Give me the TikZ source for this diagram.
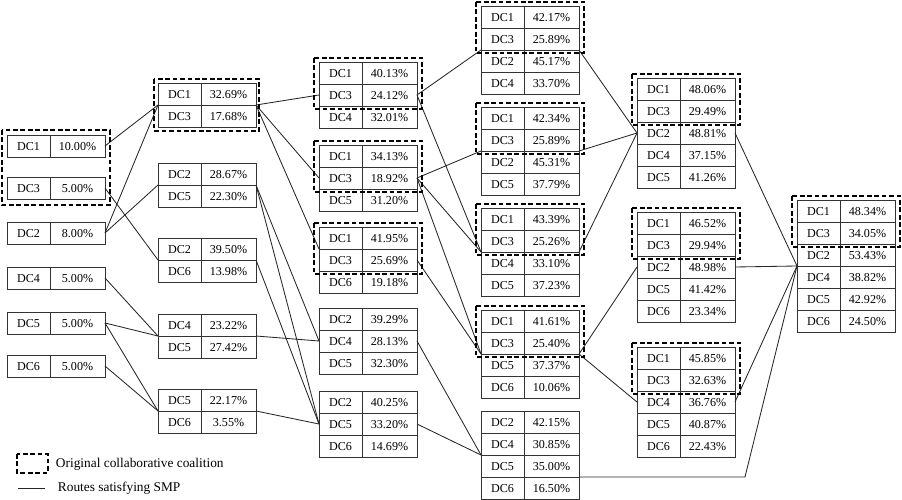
\documentclass[tikz,border=0pt]{standalone}
\usepackage{fontspec}
\setmainfont{Liberation Serif}
\usetikzlibrary{positioning,calc}

\tikzset{
  dclab/.style={draw=black!80, line width=0.6pt, outer sep=0pt, inner sep=0pt,
    minimum width=10.75mm, minimum height=5.5mm, anchor=north west,
    font=\fontsize{8.6}{10}\selectfont, text height=1.55ex, text depth=0.2ex},
  dcval/.style={dclab, minimum width=13.75mm},
  coalition/.style={draw=black, line width=1.7pt, dash pattern=on 3.4pt off 1.9pt},
  route/.style={draw=black!85, line width=0.6pt},
  legend/.style={font=\fontsize{9.5}{11}\selectfont, anchor=west}
}

% one box of stacked DC rows: name, x, y of top, list of label/value
\newcommand{\dcbox}[4]{%
  \foreach \lab/\val [count=\rw] in {#4} {
    \node[dclab] (#1\rw l) at (#2,{#3+(\rw-1)*22}) {\lab};
    \node[dcval, right=0pt of #1\rw l] (#1\rw v) {\val};
  }%
}

\begin{document}
\begin{tikzpicture}[x=0.25mm, y=-0.25mm]
        \useasboundingbox (0,0) rectangle (902,500);

        % Single DCs
        \dcbox{one}{7}{135}{DC1/10.00\%}
        \dcbox{three}{7}{177}{DC3/5.00\%}
        \dcbox{two}{7}{222}{DC2/8.00\%}
        \dcbox{four}{7}{267}{DC4/5.00\%}
        \dcbox{five}{7}{312}{DC5/5.00\%}
        \dcbox{six}{7}{355}{DC6/5.00\%}

        % Pairs
        \dcbox{A}{158}{83}{DC1/32.69\%, DC3/17.68\%}
        \dcbox{B}{158}{163}{DC2/28.67\%, DC5/22.30\%}
        \dcbox{C}{158}{238}{DC2/39.50\%, DC6/13.98\%}
        \dcbox{D}{158}{314}{DC4/23.22\%, DC5/27.42\%}
        \dcbox{E}{158}{389}{DC5/22.17\%, DC6/3.55\%}

        % Triples
        \dcbox{F}{319}{62}{DC1/40.13\%, DC3/24.12\%, DC4/32.01\%}
        \dcbox{G}{319}{145}{DC1/34.13\%, DC3/18.92\%, DC5/31.20\%}
        \dcbox{H}{319}{227}{DC1/41.95\%, DC3/25.69\%, DC6/19.18\%}
        \dcbox{I}{319}{308}{DC2/39.29\%, DC4/28.13\%, DC5/32.30\%}
        \dcbox{J}{319}{391}{DC2/40.25\%, DC5/33.20\%, DC6/14.69\%}

        % Quadruples
        \dcbox{K}{481}{6}{DC1/42.17\%, DC3/25.89\%, DC2/45.17\%, DC4/33.70\%}
        \dcbox{L}{481}{107}{DC1/42.34\%, DC3/25.89\%, DC2/45.31\%, DC5/37.79\%}
        \dcbox{M}{481}{208}{DC1/43.39\%, DC3/25.26\%, DC4/33.10\%, DC5/37.23\%}
        \dcbox{N}{481}{310}{DC1/41.61\%, DC3/25.40\%, DC5/37.37\%, DC6/10.06\%}
        \dcbox{O}{481}{411}{DC2/42.15\%, DC4/30.85\%, DC5/35.00\%, DC6/16.50\%}

        % Quintuples
        \dcbox{P}{637}{78}{DC1/48.06\%, DC3/29.49\%, DC2/48.81\%, DC4/37.15\%, DC5/41.26\%}
        \dcbox{Q}{637}{212}{DC1/46.52\%, DC3/29.94\%, DC2/48.98\%, DC5/41.42\%, DC6/23.34\%}
        \dcbox{R}{637}{347}{DC1/45.85\%, DC3/32.63\%, DC4/36.76\%, DC5/40.87\%, DC6/22.43\%}

        % Grand coalition
        \dcbox{S}{797}{200}{DC1/48.34\%, DC3/34.05\%, DC2/53.43\%, DC4/38.82\%, DC5/42.92\%, DC6/24.50\%}

        % Routes
        \draw[route] (one1v.east) -- (A1l.south west);
        \draw[route] (two1v.east) -- (A1l.south west);
        \draw[route] (two1v.east) -- (B1l.south west);
        \draw[route] (three1v.east) -- (C1l.south west);
        \draw[route] (four1v.east) -- (D1l.south west);
        \draw[route] (five1v.east) -- (D1l.south west);
        \draw[route] (five1v.east) -- (E1l.south west);
        \draw[route] (six1v.east) -- (E1l.south west);

        \draw[route] (A1v.south east) -- (F2l.west);
        \draw[route] (A1v.south east) -- (G2l.west);
        \draw[route] (A1v.south east) -- (H1l.south west);
        \draw[route] (B1v.south east) -- (I2l.west);
        \draw[route] (B1v.south east) -- (J2l.west);
        \draw[route] (C1v.south east) -- (J2l.west);
        \draw[route] (D1v.south east) -- (I2l.west);
        \draw[route] (E1v.south east) -- (J2l.west);

        \draw[route] (F2v.east) -- (K2l.south west);
        \draw[route] (F2v.east) -- (M2l.south west);
        \draw[route] (G2v.east) -- (L2l.south west);
        \draw[route] (G2v.east) -- (M2l.south west);
        \draw[route] (G2v.east) -- (N2l.south west);
        \draw[route] (H2v.east) -- (N2l.south west);
        \draw[route] (I2v.east) -- (O2l.south west);
        \draw[route] (J2v.east) -- (O2l.south west);

        \draw[route] (K2v.south east) -- (P3l.west);
        \draw[route] (L2v.south east) -- (P3l.west);
        \draw[route] (M2v.south east) -- (P3l.west);
        \draw[route] (N2v.south east) -- (Q3l.west);
        \draw[route] (N2v.south east) -- (R3l.west);

        \coordinate (bend) at (745,477);
        \draw[route] (O3v.south east) -- (bend) -- (S3l.south west);
        \draw[route] (P3v.east) -- (S3l.south west);
        \draw[route] (Q3v.east) -- (S3l.south west);
        \draw[route] (R3v.east) -- (S3l.south west);

        % Original coalitions
        \draw[coalition] ($(one1l.north west)+(-5,-5)$) rectangle ($(three1v.south east)+(5,6)$);
        \draw[coalition] ($(A1l.north west)+(-4,-4)$) rectangle ($(A2v.south east)+(3,4)$);
        \foreach \bx in {F,G,H,K,L,M,N,P,Q,R,S}
            \draw[coalition] ($(\bx1l.north west)+(-5,-4)$) rectangle ($(\bx2v.south east)+(5,3)$);

        % Legend
        \draw[coalition] (17,454) rectangle (48,473);
        \node[legend] (legc) at (51,464) {Original collaborative coalition};
        \coordinate (la) at (18,488);
        \coordinate (lb) at (45,488);
        \draw[route] (la) -- (lb);
        \node[legend] (legr) at (53,488) {Routes satisfying SMP};
    \end{tikzpicture}
\end{document}
